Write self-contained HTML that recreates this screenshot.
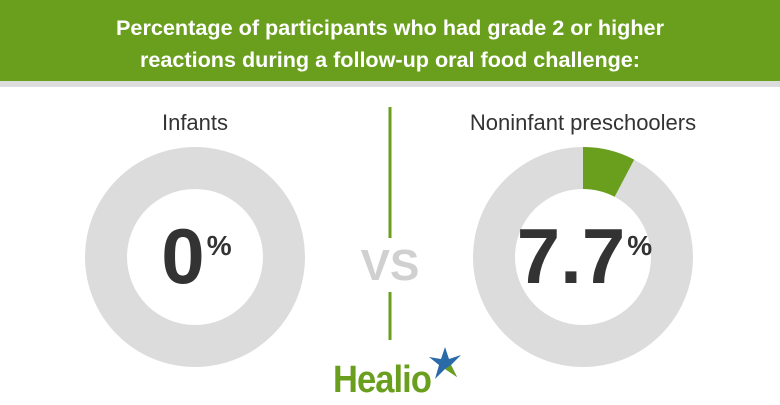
<!DOCTYPE html>
<html><head><meta charset="utf-8"><style>
html,body{margin:0;padding:0;background:#fff;}
svg{display:block;font-family:"Liberation Sans",sans-serif;}
</style></head><body>
<svg width="780" height="405" viewBox="0 0 780 405">
<rect x="0" y="0" width="780" height="81" fill="#6a9f1e"/>
<rect x="0" y="81" width="780" height="6" fill="#dcdcdc"/>
<text x="390" y="35" text-anchor="middle" font-size="21" font-weight="bold" fill="#fff" textLength="548" lengthAdjust="spacingAndGlyphs">Percentage of participants who had grade 2 or higher</text>
<text x="390" y="67" text-anchor="middle" font-size="21" font-weight="bold" fill="#fff" textLength="500" lengthAdjust="spacingAndGlyphs">reactions during a follow-up oral food challenge:</text>
<line x1="390" y1="107" x2="390" y2="238" stroke="#6a9f1e" stroke-width="3"/>
<line x1="390" y1="292" x2="390" y2="340" stroke="#6a9f1e" stroke-width="3"/>
<text x="390" y="280" text-anchor="middle" font-size="44" font-weight="bold" fill="#d0d0d0">VS</text>
<g id="donuts"></g>
<text x="333" y="392" font-size="38" font-weight="bold" fill="#6a9f1e" letter-spacing="-1" textLength="98" lengthAdjust="spacingAndGlyphs">Healio</text>
<g transform="translate(445,363)">
<polygon points="0,-16 4,-4 16,-8 6,2 12,14 0,6 -10,16 -6,2 -16,-6 -4,-4" fill="#2a6aa8"/>
<polygon points="0,6 12,14 6,2" fill="#6a9f1e"/>
</g>
</svg>
<script>
var labels=["Infants","Noninfant preschoolers"];
var values=[0,7.7];
var valueText=["0","7.7"];
var ns="http://www.w3.org/2000/svg";
var g=document.getElementById('donuts');
var cx=[195,583],cy=257,R=110,r=68;
function pt(a,rad,c){return [c+rad*Math.sin(a),cy-rad*Math.cos(a)];}
for(var i=0;i<values.length;i++){
  var c=cx[i];
  var ring=document.createElementNS(ns,'path');
  ring.setAttribute('d','M'+(c-R)+','+cy+'a'+R+','+R+' 0 1,0 '+(2*R)+',0a'+R+','+R+' 0 1,0 '+(-2*R)+',0Z M'+(c-r)+','+cy+'a'+r+','+r+' 0 1,1 '+(2*r)+',0a'+r+','+r+' 0 1,1 '+(-2*r)+',0Z');
  ring.setAttribute('fill','#dcdcdc');ring.setAttribute('fill-rule','evenodd');
  
  
  g.appendChild(ring);
  if(values[i]>0){
    var a=values[i]/100*2*Math.PI;
    var p1=pt(0,R,c),p2=pt(a,R,c),p3=pt(a,r,c),p4=pt(0,r,c);
    var s=document.createElementNS(ns,'path');
    s.setAttribute('d','M'+p1+' A'+R+','+R+' 0 0,1 '+p2+' L'+p3+' A'+r+','+r+' 0 0,0 '+p4+'Z');
    s.setAttribute('fill','#6a9f1e');
    
    
    g.appendChild(s);
  }
  var t=document.createElementNS(ns,'text');
  t.setAttribute('x',c);t.setAttribute('y',130);t.setAttribute('text-anchor','middle');
  t.setAttribute('font-size','22');t.setAttribute('fill','#333');
  t.textContent=labels[i];
  
  
  g.appendChild(t);
  var v=document.createElementNS(ns,'text');
  v.setAttribute('x',c-12);v.setAttribute('y',283);v.setAttribute('text-anchor','middle');
  v.setAttribute('font-size','78');v.setAttribute('font-weight','bold');v.setAttribute('fill','#333');
  v.textContent=valueText[i];
  
  
  g.appendChild(v);
  var w=v.getComputedTextLength();
  var pc=document.createElementNS(ns,'text');
  pc.setAttribute('x',c-12+w/2+2);pc.setAttribute('y',255);
  pc.setAttribute('font-size','28');pc.setAttribute('font-weight','bold');pc.setAttribute('fill','#333');
  pc.textContent='%';
  
  
  g.appendChild(pc);
}
</script>
</body></html>
